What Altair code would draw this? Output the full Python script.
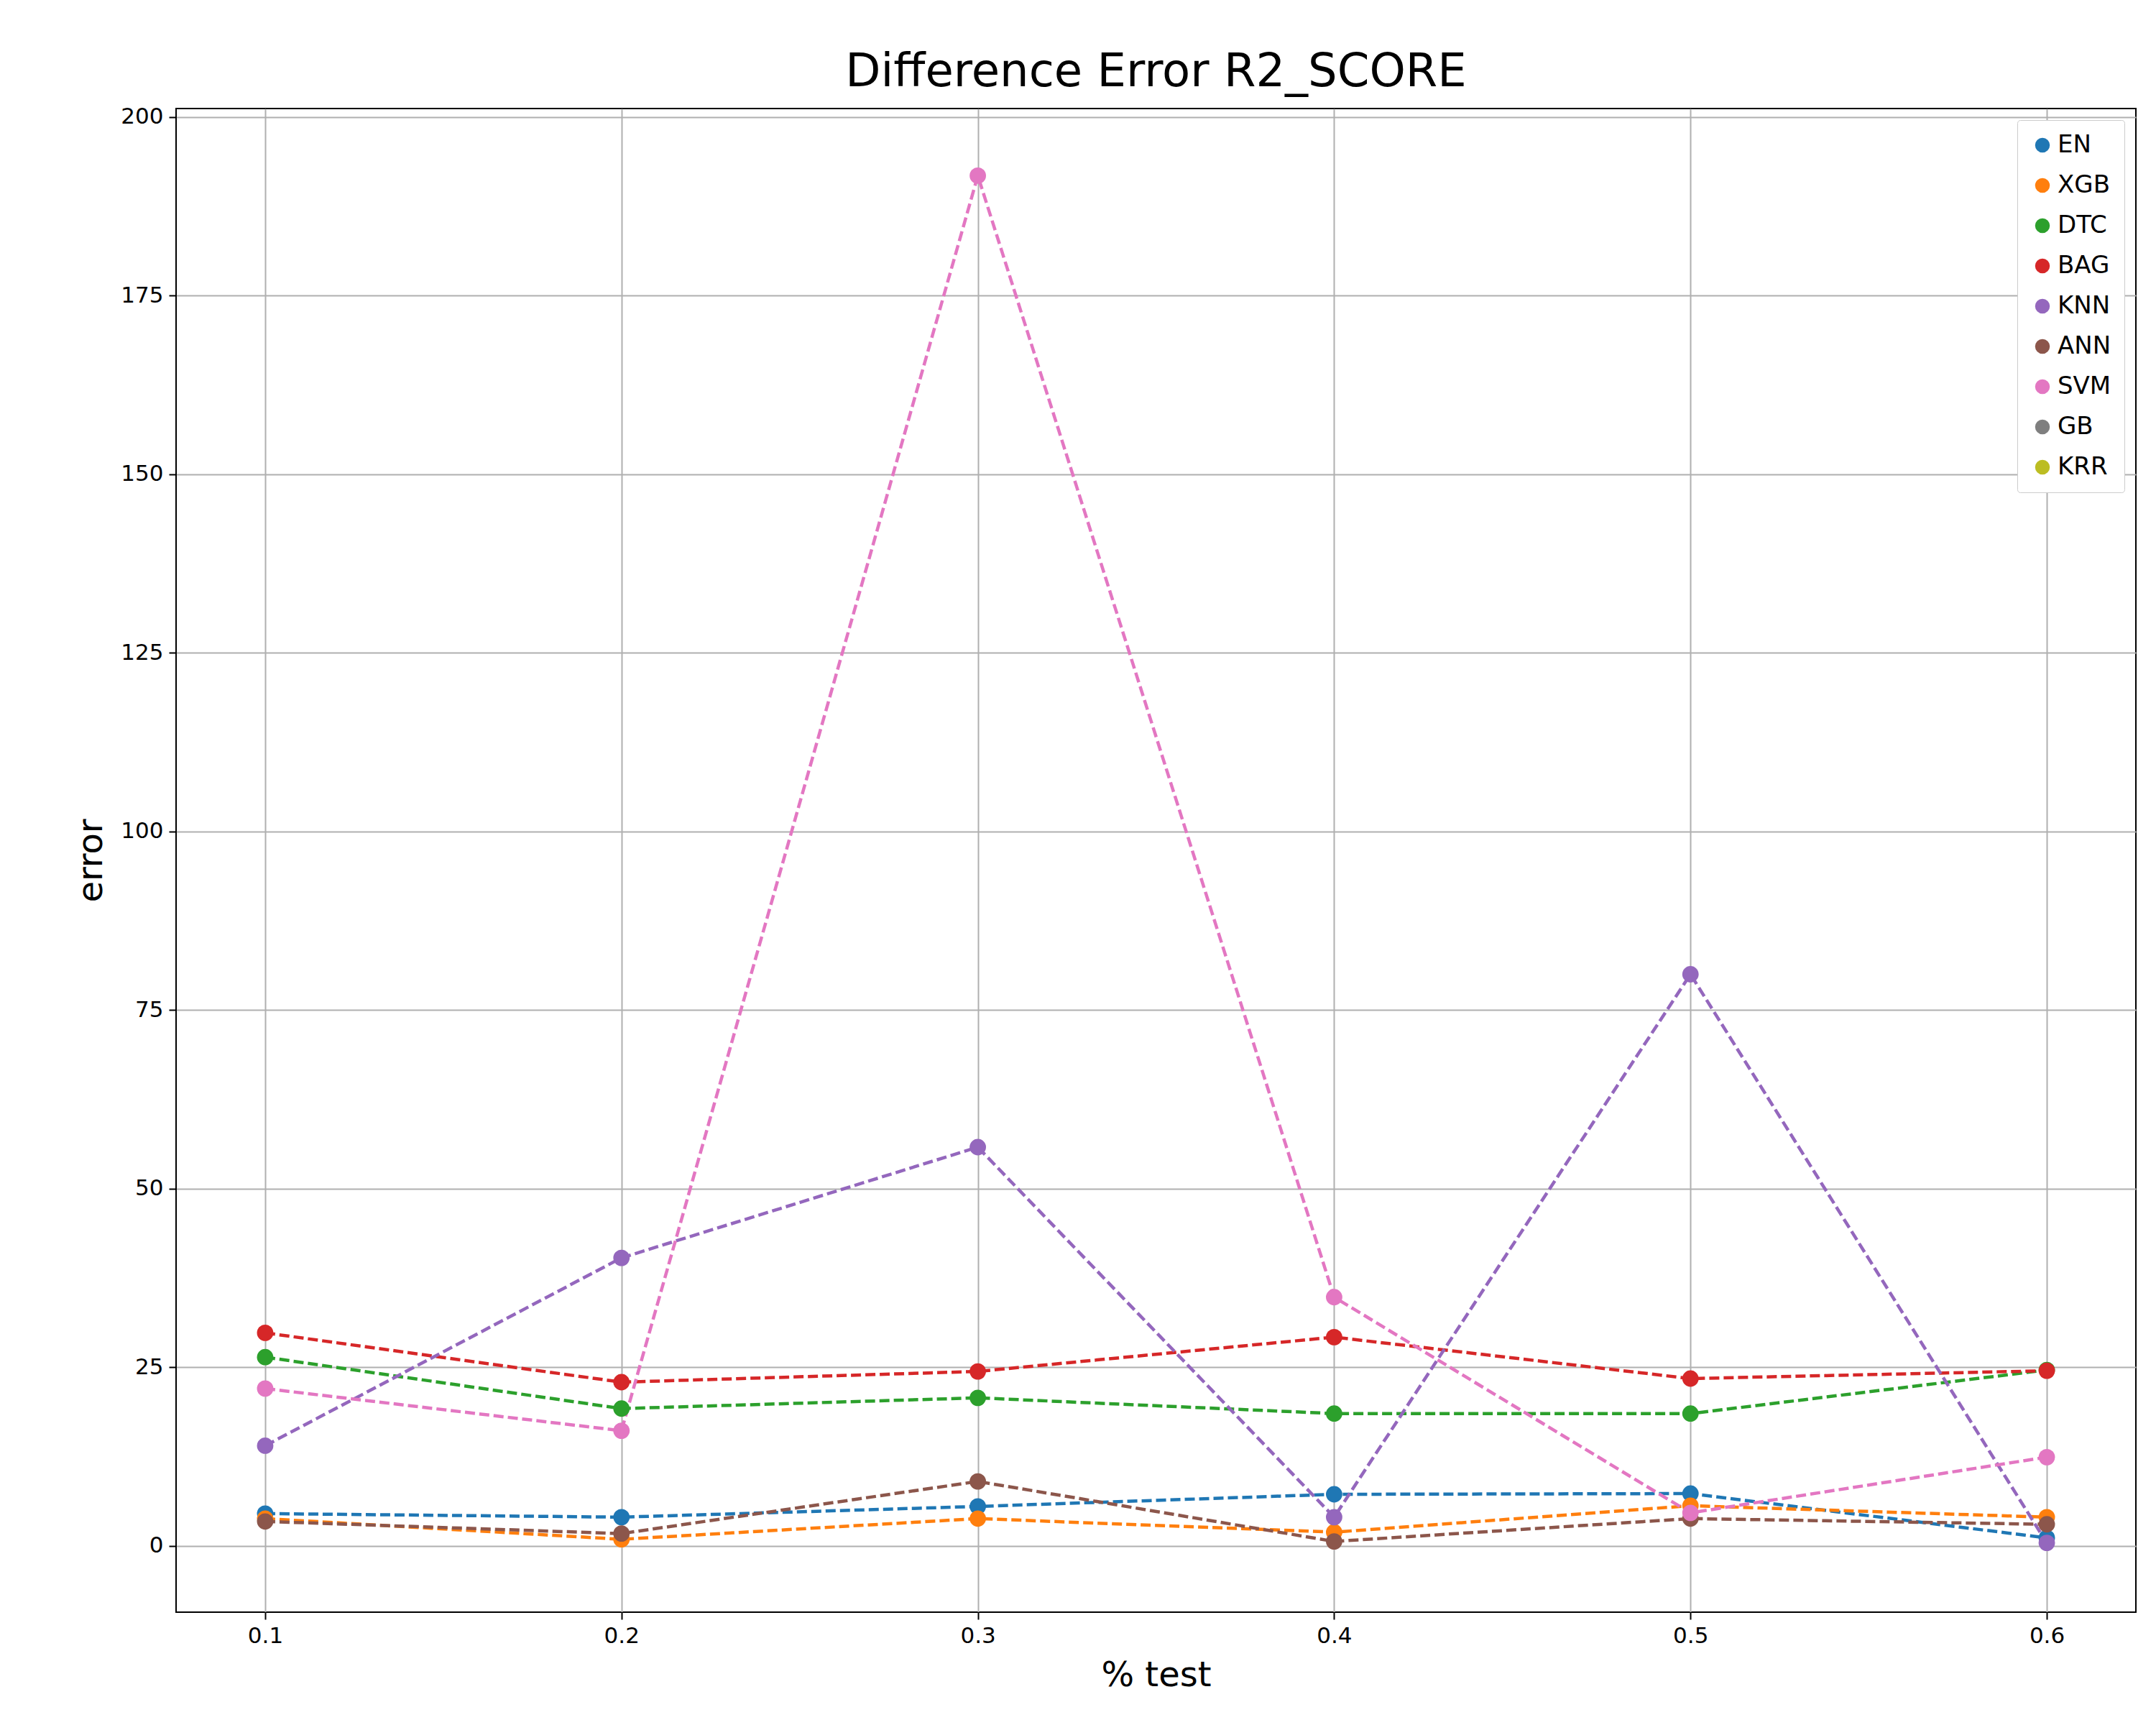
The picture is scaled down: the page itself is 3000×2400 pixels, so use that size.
import altair as alt
import pandas as pd

x_vals = [0.1, 0.2, 0.3, 0.4, 0.5, 0.6]
models = ["EN", "XGB", "DTC", "BAG", "KNN", "ANN", "SVM", "GB", "KRR"]
colors = ["#1f77b4", "#ff7f0e", "#2ca02c", "#d62728", "#9467bd", "#8c564b", "#e377c2", "#7f7f7f", "#bcbd22"]

en = [4.5, 4.0, 5.5, 7.2, 7.3, 1.1]
xgb = [3.8, 0.9, 3.8, 1.9, 5.6, 4.0]
dtc = [26.4, 19.2, 20.7, 18.5, 18.5, 24.6]
bag = [29.8, 22.9, 24.4, 29.2, 23.4, 24.5]
knn = [14.0, 40.3, 55.8, 4.0, 80.0, 0.4]
ann = [3.4, 1.7, 9.0, 0.6, 3.8, 3.0]
svm = [22.0, 16.1, 191.8, 34.8, 4.6, 12.4]

series = {"EN": en, "XGB": xgb, "DTC": dtc, "BAG": bag, "KNN": knn, "ANN": ann, "SVM": svm}
rows = []
for name, vals in series.items():
    for x, v in zip(x_vals, vals):
        rows.append({"test": x, "error": v, "model": name})
df = pd.DataFrame(rows)

chart = alt.Chart(df).mark_line(
    strokeDash=[14, 6], strokeWidth=4.5,
    point=alt.OverlayMarkDef(filled=True, size=520, opacity=1)
).encode(
    x=alt.X("test:Q", title="% test", scale=alt.Scale(domain=[0.075, 0.625], nice=False),
            axis=alt.Axis(values=x_vals, format=".1f")),
    y=alt.Y("error:Q", title="error", scale=alt.Scale(domain=[-9.3, 201.2], nice=False, zero=False),
            axis=alt.Axis(values=[0, 25, 50, 75, 100, 125, 150, 175, 200])),
    color=alt.Color("model:N", scale=alt.Scale(domain=models, range=colors), sort=models,
                    legend=alt.Legend(title=None, orient="top-right", symbolType="circle",
                                      symbolSize=420, labelFontSize=34, rowPadding=22,
                                      padding=18, strokeColor="#cccccc", fillColor="white",
                                      cornerRadius=4, offset=16, symbolStrokeWidth=0)),
    order=alt.Order("test:Q"),
).properties(
    width=2727, height=2092,
    padding={"left": 95, "top": 60, "right": 10, "bottom": 10},
    title=alt.Title("Difference Error R2_SCORE", fontSize=64, fontWeight="normal", font="DejaVu Sans", offset=14),
).configure_axis(
    grid=True, gridColor="#b0b0b0", gridWidth=2, labelFontSize=31, titleFontSize=48,
    titleFontWeight="normal", labelFont="DejaVu Sans", titleFont="DejaVu Sans",
    tickSize=10, tickWidth=2, tickColor="black", domainColor="black", labelColor="black",
    titleColor="black", labelPadding=8, titlePadding=16,
).configure_legend(labelFont="DejaVu Sans").configure_view(
    stroke="black", strokeWidth=2
)

chart.save("out.html", embed_options={"renderer": "svg", "actions": False})
